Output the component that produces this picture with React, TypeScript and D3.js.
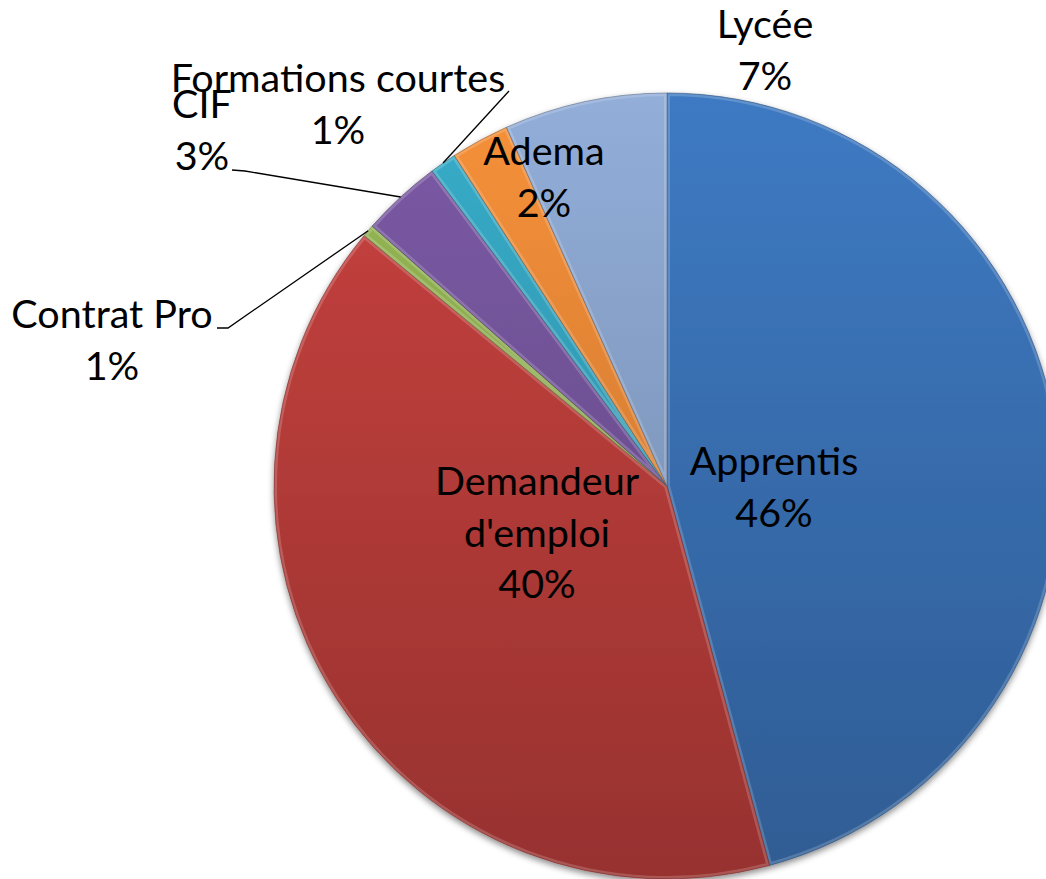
import React, { useEffect, useRef } from 'react';
import * as d3 from 'd3';

// data (shares, clockwise from 12 o'clock)
const categories = ['Apprentis', "Demandeur d'emploi", 'Contrat Pro', 'CIF', 'Formations courtes', 'Adema', 'Lycée'];
const values = [45.8, 40.2, 0.5, 3.3, 1.1, 2.4, 6.7];
const percentLabels = ['46%', '40%', '1%', '3%', '1%', '2%', '7%'];
const colors = ['#3E7AC3', '#C9423F', '#98BA55', '#7C5AA6', '#38ADCA', '#F7913A', '#92AED9'];

// hand placed labels, like the original (x = centre of text, y = first baseline)
const labelLayout = [
  { x: 774, y: 475, lines: ['Apprentis'] },
  { x: 537, y: 495, lines: ['Demandeur', "d'emploi"] },
  { x: 112, y: 328, lines: ['Contrat Pro'], leader: [[217, 328], [228, 328]] },
  { x: 202, y: 118, lines: ['CIF'], leader: [[232, 170], [245, 171]] },
  { x: 338, y: 92, lines: ['Formations courtes'], leader: [[509, 91]] },
  { x: 544, y: 165, lines: ['Adema'] },
  { x: 765, y: 38, lines: ['Lycée'] },
];

const PieChart = () => {
  const ref = useRef(null);

  useEffect(() => {
    const width = 1046;
    const height = 879;
    const cx = 667;
    const cy = 486;
    const radius = 393;
    const lineHeight = 51.5;

    const svg = d3.select(ref.current).attr('width', width).attr('height', height);
    svg.selectAll('*').remove();
    const defs = svg.append('defs');

    const filter = defs.append('filter').attr('id', 'pie-shadow')
      .attr('x', '-10%').attr('y', '-10%').attr('width', '120%').attr('height', '120%');
    filter.append('feDropShadow')
      .attr('dx', 0).attr('dy', 3).attr('stdDeviation', 3)
      .attr('flood-color', '#000').attr('flood-opacity', 0.45);

    const arcs = d3.pie().sort(null).value(d => d)(values);
    const arc = d3.arc().innerRadius(0).outerRadius(radius);

    const g = svg.append('g').attr('transform', `translate(${cx},${cy})`);
    const slices = g.append('g').attr('filter', 'url(#pie-shadow)');

    arcs.forEach((d, i) => {
      const base = d3.color(colors[i]);
      const grad = defs.append('linearGradient').attr('id', `grad-${i}`)
        .attr('gradientUnits', 'userSpaceOnUse')
        .attr('x1', 0).attr('y1', -radius).attr('x2', 0).attr('y2', radius);
      grad.append('stop').attr('offset', '0%').attr('stop-color', base.formatHex());
      grad.append('stop').attr('offset', '100%').attr('stop-color', base.darker(0.8).formatHex());

      defs.append('clipPath').attr('id', `clip-${i}`).append('path').attr('d', arc(d));

      slices.append('path')
        .attr('d', arc(d))
        .attr('fill', `url(#grad-${i})`);

      // bevel: light inner rim + dark edge
      slices.append('path')
        .attr('d', arc(d))
        .attr('fill', 'none')
        .attr('stroke', '#fff')
        .attr('stroke-opacity', 0.18)
        .attr('stroke-width', 6)
        .attr('stroke-linejoin', 'round')
        .attr('clip-path', `url(#clip-${i})`);
      slices.append('path')
        .attr('d', arc(d))
        .attr('fill', 'none')
        .attr('stroke', base.darker(1.5).formatHex())
        .attr('stroke-opacity', 0.7)
        .attr('stroke-width', 0.8);
    });

    // leader lines
    labelLayout.forEach((l, i) => {
      if (!l.leader) return;
      const a = (arcs[i].startAngle + arcs[i].endAngle) / 2;
      const end = [cx + radius * Math.sin(a), cy - radius * Math.cos(a)];
      svg.append('path')
        .attr('d', d3.line()([...l.leader, end]))
        .attr('fill', 'none')
        .attr('stroke', '#000')
        .attr('stroke-width', 1.3);
    });

    // labels
    labelLayout.forEach((l, i) => {
      const text = svg.append('text')
        .attr('text-anchor', 'middle')
        .style('font-family', 'Lato, "Open Sans", sans-serif')
        .style('font-size', '39.5px')
        .attr('fill', '#000');
      [...l.lines, percentLabels[i]].forEach((s, k) => {
        text.append('tspan').attr('x', l.x).attr('y', l.y + k * lineHeight).text(s);
      });
    });
  }, []);

  return <svg ref={ref} style={{ position: 'absolute', left: 0, top: 0, display: 'block' }} aria-label={categories.join(', ')}></svg>;
};

export default function App() {
  return <PieChart />;
}
